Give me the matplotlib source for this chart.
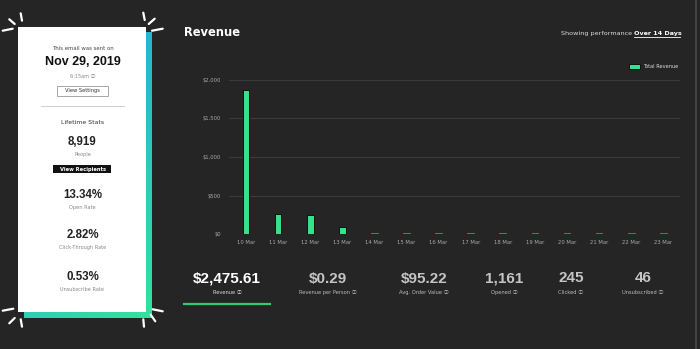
import numpy as np
import matplotlib
matplotlib.use("Agg")
import matplotlib.pyplot as plt
from matplotlib.patches import Rectangle, Patch

# ---------------- data ----------------
days = ["10 Mar", "11 Mar", "12 Mar", "13 Mar", "14 Mar", "15 Mar", "16 Mar",
        "17 Mar", "18 Mar", "19 Mar", "20 Mar", "21 Mar", "22 Mar", "23 Mar"]
revenue = [1870, 262, 253, 90, 12, 12, 12, 12, 12, 12, 12, 12, 12, 12]
y_ticks = [0, 500, 1000, 1500, 2000]
y_tick_labels = ["$0", "$500", "$1,000", "$1,500", "$2,000"]

stat_values = ["$2,475.61", "$0.29", "$95.22", "1,161", "245", "46"]
stat_labels = ["Revenue", "Revenue per Person", "Avg. Order Value",
               "Opened", "Clicked", "Unsubscribed"]

card_values = ["8,919", "13.34%", "2.82%", "0.53%"]
card_labels = ["People", "Open Rate", "Click-Through Rate", "Unsubscribe Rate"]

BG = "#252525"
GREEN = "#34e28c"
W, H = 700, 349
FAM = ["DejaVu Sans", "Noto Sans CJK SC"]

fig = plt.figure(figsize=(7, 3.49), dpi=100, facecolor=BG)
bg = fig.add_axes([0, 0, 1, 1])
bg.set_xlim(0, W)
bg.set_ylim(H, 0)
bg.axis("off")
bg.set_facecolor(BG)

# right border line
bg.plot([696, 696], [0, 349], color="#4a4a4a", lw=1.2)

# ---------------- left card ----------------
grad_ax = fig.add_axes([24 / W, 1 - 318 / H, (152 - 24) / W, (318 - 32) / H])
grad_ax.axis("off")
yy, xx = np.mgrid[0:1:200j, 0:1:100j]
t = np.clip(yy * (0.6 + 0.4 * xx), 0, 1)
c_top = np.array([0x29, 0xb2, 0xd8]) / 255
c_bot = np.array([0x32, 0xe2, 0x9c]) / 255
img = c_top[None, None, :] * (1 - t[..., None]) + c_bot[None, None, :] * t[..., None]
grad_ax.imshow(img, aspect="auto", extent=[0, 1, 1, 0])
grad_ax.set_xlim(0, 1)
grad_ax.set_ylim(1, 0)

card = fig.add_axes([0, 0, 1, 1])
card.set_xlim(0, W)
card.set_ylim(H, 0)
card.axis("off")
card.patch.set_alpha(0)
card.add_patch(Rectangle((18, 27), 128, 285, facecolor="white", edgecolor="none"))

sparks = [
    ((20.7, 13.3), (22, 20.7)), ((9.3, 19.3), (14.7, 24)), ((2.7, 30.7), (12.7, 28.7)),
    ((143.3, 12.7), (144.7, 20)), ((148.7, 24), (154.7, 18.7)), ((152, 30.7), (162.7, 28.7)),
    ((2.7, 310.7), (13.3, 308.7)), ((9.3, 323.3), (14.7, 318)), ((20.7, 319.3), (22, 326.7)),
    ((152.7, 309.3), (162.7, 311.3)), ((150.7, 314.7), (155.3, 321.3)), ((143.3, 319.3), (144, 326.7)),
]
for (x0, y0), (x1, y1) in sparks:
    card.plot([x0, x1], [y0, y1], color="white", lw=1.6, solid_capstyle="round")

cx = 82.5
card.text(cx, 48.3, "This email was sent on", ha="center", va="center",
          fontsize=3.9, color="#444444")
card.text(cx, 61.7, "Nov 29, 2019", ha="center", va="center", fontsize=9,
          fontweight="bold", color="#111111", family="Liberation Sans")
card.text(cx, 76, "6:15am \u24d8", ha="center", va="center", fontsize=3.6,
          color="#888888", family=FAM)
card.add_patch(Rectangle((57, 85.7), 51, 10, facecolor="white", edgecolor="#999999", lw=0.6))
card.text(cx, 90.9, "View Settings", ha="center", va="center", fontsize=3.7, color="#333333")
card.plot([40.7, 124], [106, 106], color="#d0d0d0", lw=0.7)
card.text(cx, 122, "Lifetime Stats", ha="center", va="center", fontsize=4.4, color="#333333")

card_y = [141.7, 195, 235, 276.7]
for i, (v, l) in enumerate(zip(card_values, card_labels)):
    card.text(cx, card_y[i], v, ha="center", va="center", fontsize=8.3,
              fontweight="bold", color="#222222", family="Liberation Sans")
    card.text(cx, card_y[i] + 13, l, ha="center", va="center", fontsize=3.6, color="#888888")

card.add_patch(Rectangle((53.3, 165), 57.4, 8.3, facecolor="#111111", edgecolor="none"))
card.text(cx, 169.4, "View Recipients", ha="center", va="center", fontsize=3.7,
          color="white", fontweight="bold")

# ---------------- headers ----------------
card.text(184, 33, "Revenue", ha="left", va="center", fontsize=8.3,
          fontweight="bold", color="white")
card.text(634, 33.3, "Over 14 Days", ha="left", va="center", fontsize=4.6,
          fontweight="bold", color="white")
card.text(632, 33.3, "Showing performance", ha="right", va="center", fontsize=4.6,
          color="#dddddd")
card.plot([634, 680], [37, 37], color="white", lw=0.6)

# ---------------- bar chart ----------------
ax = fig.add_axes([229.3 / W, 1 - 234.3 / H, (680 - 229.3) / W, (234.3 - 79.7) / H])
ax.set_facecolor("none")
x = np.arange(len(days))
edge_cols = ["#101010" if v > 50 else "#1f9a58" for v in revenue]
face_cols = [GREEN if v > 50 else "#25b066" for v in revenue]
ax.bar(x, revenue, width=0.21, color=face_cols, edgecolor=edge_cols, linewidth=0.7,
       zorder=3)
ax.set_xlim(-0.52, 13.52)
ax.set_ylim(0, 2000)
ax.set_yticks(y_ticks)
ax.set_yticklabels(y_tick_labels)
ax.set_xticks(x)
ax.set_xticklabels(days)
ax.tick_params(axis="both", length=0, labelsize=3.8, labelcolor="#a8a8a8")
ax.tick_params(axis="y", pad=6)
ax.tick_params(axis="x", pad=4)
for s in ax.spines.values():
    s.set_visible(False)
ax.grid(axis="y", color="#3a3a3a", lw=0.8, zorder=0)
ax.set_axisbelow(True)

handle = Patch(facecolor=GREEN, edgecolor="#101010", linewidth=0.7, label="Total Revenue")
leg = ax.legend(handles=[handle], loc="upper right", bbox_to_anchor=(1.0, 1.115),
                frameon=False, fontsize=3.6, handlelength=2.2, handleheight=1.2,
                handletextpad=0.5, borderaxespad=0)
for txt in leg.get_texts():
    txt.set_color("#dddddd")

# ---------------- bottom stats ----------------
stat_x = [227, 328, 424, 504, 571, 643]
for i, (v, l) in enumerate(zip(stat_values, stat_labels)):
    col = "white" if i == 0 else "#c4c4c4"
    card.text(stat_x[i], 278.5, v, ha="center", va="center", fontsize=11,
              fontweight="bold", color=col, family="Liberation Sans")
    card.text(stat_x[i], 292.3, l + " \u24d8", ha="center", va="center", fontsize=3.7,
              color="#bbbbbb" if i else "#dddddd", family=FAM)
card.plot([184, 270], [303.7, 303.7], color="#2ecc71", lw=1.6)

fig.savefig("out.png", dpi=100, facecolor=BG)
